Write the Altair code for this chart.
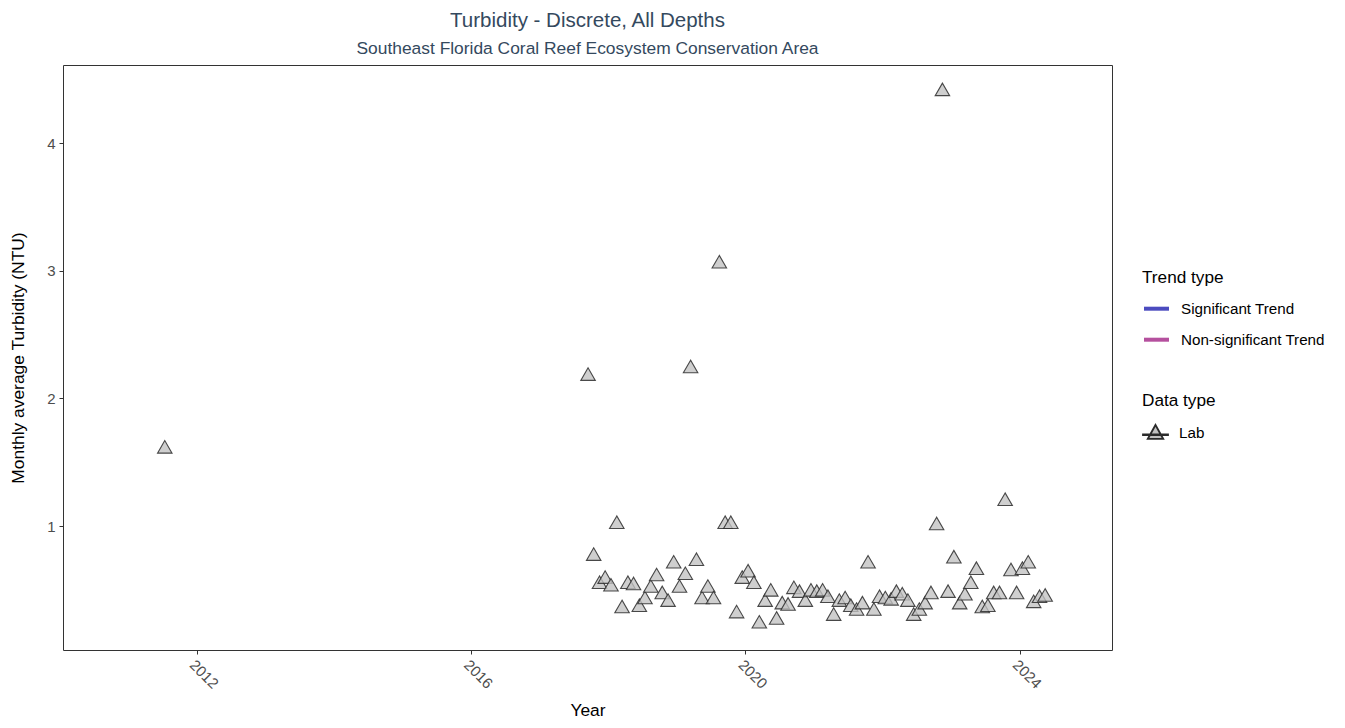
import altair as alt
import pandas as pd

months = [
    "2011-07-15",
    "2017-09-15", "2017-10-15", "2017-11-15", "2017-12-15",
    "2018-01-15", "2018-02-15", "2018-03-15", "2018-04-15", "2018-05-15", "2018-06-15",
    "2018-07-15", "2018-08-15", "2018-09-15", "2018-10-15", "2018-11-15", "2018-12-15",
    "2019-01-15", "2019-02-15", "2019-03-15", "2019-04-15", "2019-05-15", "2019-06-15",
    "2019-07-15", "2019-08-15", "2019-09-15", "2019-10-15", "2019-11-15", "2019-12-15",
    "2020-01-15", "2020-02-15", "2020-03-15", "2020-04-15", "2020-05-15", "2020-06-15",
    "2020-07-15", "2020-08-15", "2020-09-15", "2020-10-15", "2020-11-15", "2020-12-15",
    "2021-01-15", "2021-02-15", "2021-03-15", "2021-04-15", "2021-05-15", "2021-06-15",
    "2021-07-15", "2021-08-15", "2021-09-15", "2021-10-15", "2021-11-15", "2021-12-15",
    "2022-01-15", "2022-02-15", "2022-03-15", "2022-04-15", "2022-05-15", "2022-06-15",
    "2022-07-15", "2022-08-15", "2022-09-15", "2022-10-15", "2022-11-15", "2022-12-15",
    "2023-01-15", "2023-02-15", "2023-03-15", "2023-04-15", "2023-05-15", "2023-06-15",
    "2023-07-15", "2023-08-15", "2023-09-15", "2023-10-15", "2023-11-15", "2023-12-15",
    "2024-01-15", "2024-02-15", "2024-03-15", "2024-04-15", "2024-05-15",
]
turbidity = [
    1.62,
    2.19, 0.78, 0.56, 0.60,
    0.54, 1.03, 0.37, 0.56, 0.55, 0.38,
    0.44, 0.53, 0.62, 0.48, 0.42, 0.72,
    0.53, 0.63, 2.25, 0.74, 0.44, 0.53,
    0.44, 3.07, 1.03, 1.03, 0.33, 0.60,
    0.65, 0.56, 0.25, 0.42, 0.50, 0.28,
    0.40, 0.39, 0.52, 0.49, 0.42, 0.50,
    0.49, 0.50, 0.45, 0.31, 0.42, 0.44,
    0.38, 0.35, 0.40, 0.72, 0.35, 0.45,
    0.44, 0.43, 0.49, 0.47, 0.42, 0.31,
    0.35, 0.40, 0.48, 1.02, 4.42, 0.49,
    0.76, 0.40, 0.47, 0.56, 0.67, 0.37,
    0.38, 0.48, 0.48, 1.21, 0.66, 0.48,
    0.67, 0.72, 0.41, 0.45, 0.46,
]
trend_types = ["Significant Trend", "Non-significant Trend"]
trend_colors = ["#4b4bbf", "#b5509e"]
data_types = ["Lab"]
year_ticks = [2012, 2016, 2020, 2024]

df = pd.DataFrame({"date": months, "value": turbidity, "type": ["Lab"] * len(months)})
trend_df = pd.DataFrame({"date": ["2020-01-15", "2020-01-15"], "value": [None, None], "trend": trend_types})

title_color = "#34495e"

x_scale = alt.Scale(domain=["2010-01-19", "2025-05-06"])
y_scale = alt.Scale(domain=[0.029, 4.611], zero=False, nice=False)

x_axis = alt.Axis(
    title="Year",
    values=[alt.DateTime(year=y, month=1, date=1) for y in year_ticks],
    format="%Y",
    labelAngle=45,
    labelAlign="left",
    labelBaseline="top",
    grid=False,
    tickColor="#333333",
    tickSize=4,
    labelPadding=3,
    labelColor="#4d4d4d",
    labelFontSize=15,
    titleFontSize=17.4,
    titleFontWeight="normal",
    titleColor="#000000",
    domain=False,
    titlePadding=10,
)
y_axis = alt.Axis(
    title="Monthly average Turbidity (NTU)",
    values=[1, 2, 3, 4],
    format="d",
    grid=False,
    tickColor="#333333",
    tickSize=4,
    labelColor="#4d4d4d",
    labelFontSize=15,
    labelPadding=4,
    titleFontSize=17.4,
    titleFontWeight="normal",
    titleColor="#000000",
    domain=False,
    titlePadding=19,
)

trend = alt.Chart(trend_df).mark_line(strokeWidth=4).encode(
    x=alt.X("date:T", scale=x_scale, axis=x_axis),
    y=alt.Y("value:Q", scale=y_scale, axis=y_axis),
    color=alt.Color(
        "trend:N",
        scale=alt.Scale(domain=trend_types, range=trend_colors),
        legend=alt.Legend(
            title="Trend type",
            orient="none",
            legendX=1079,
            legendY=204,
            symbolType="stroke",
            symbolStrokeWidth=4,
            symbolSize=625,
            labelFontSize=15.2,
            labelColor="#000000",
            labelOffset=10,
            titleFontSize=17.2,
            titleFontWeight="normal",
            titleColor="#000000",
            titlePadding=8,
            rowPadding=8,
        ),
    ),
)

lab_symbol = "M0,-0.62L0.62,0.5L-0.62,0.5Z M-1,0.14L1,0.14L1,0.2L-1,0.2Z"

points = alt.Chart(df).mark_point(
    shape="triangle-up", filled=True, size=210, fill="#c2c2c2", fillOpacity=0.78,
    strokeWidth=1.1, strokeOpacity=0.85
).encode(
    x=alt.X("date:T", scale=x_scale, axis=x_axis),
    y=alt.Y("value:Q", scale=y_scale, axis=y_axis),
    stroke=alt.Stroke(
        "type:N",
        scale=alt.Scale(domain=data_types, range=["#2b2b2b"]),
        legend=alt.Legend(
            title="Data type",
            orient="none",
            legendX=1079,
            legendY=327,
            symbolType=lab_symbol,
            symbolSize=625,
            symbolFillColor="#c2c2c2",
            symbolStrokeWidth=1.8,
            labelFontSize=15.2,
            labelColor="#000000",
            labelOffset=10,
            titleFontSize=17.2,
            titleFontWeight="normal",
            titleColor="#000000",
            titlePadding=10,
        ),
    ),
)

chart = alt.layer(trend, points).properties(
    width=1049,
    height=585,
    padding={"left": 1, "top": 3, "right": 5, "bottom": 2},
    title=alt.TitleParams(
        text="Turbidity - Discrete, All Depths",
        subtitle="Southeast Florida Coral Reef Ecosystem Conservation Area",
        anchor="middle",
        color=title_color,
        subtitleColor=title_color,
        fontSize=20.5,
        fontWeight="normal",
        subtitleFontSize=17.4,
        subtitlePadding=8,
        offset=8,
    ),
).configure(font="Liberation Sans").configure_view(stroke="#333333", strokeWidth=1)

chart.save("out.html", embed_options={"renderer": "svg", "actions": False})
